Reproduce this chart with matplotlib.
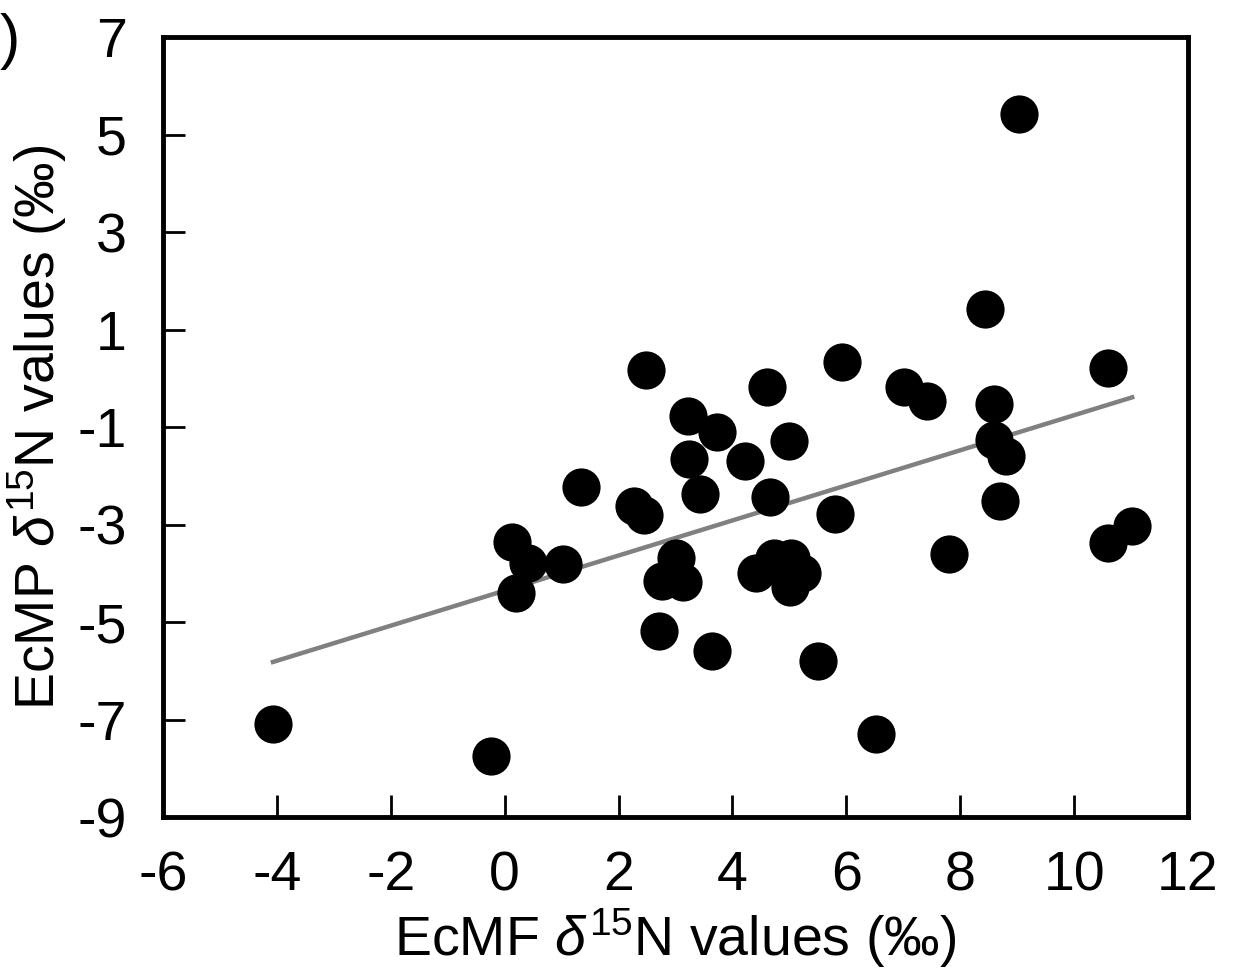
import matplotlib as mpl
mpl.use('Agg')
import matplotlib.pyplot as plt
import numpy as np

# EcMF vs EcMP delta15N values (per mil)
ecmf = [9.03, 8.44, 2.48, 5.92, 4.61, 7.01, 7.42, 10.60, 8.59, 3.22,
        3.73, 4.99, 8.59, 8.81, 3.24, 4.22, 1.34, 3.43, 4.66, 2.27,
        2.45, 8.70, 5.80, 10.60, 11.02, 0.13, 0.41, 1.02, 3.01, 7.80,
        4.73, 5.03, 4.41, 5.22, 2.76, 3.13, 5.01, 0.20, 2.71, 3.64,
        5.50, -4.07, -0.24, 6.52]
ecmp = [5.42, 1.42, 0.17, 0.33, -0.18, -0.18, -0.47, 0.21, -0.53, -0.77,
        -1.10, -1.29, -1.27, -1.59, -1.66, -1.70, -2.23, -2.37, -2.44, -2.62,
        -2.81, -2.52, -2.78, -3.38, -3.03, -3.36, -3.79, -3.81, -3.69, -3.61,
        -3.69, -3.69, -4.00, -4.00, -4.16, -4.18, -4.28, -4.41, -5.18, -5.60,
        -5.80, -7.09, -7.75, -7.30]
xticks = [-6, -4, -2, 0, 2, 4, 6, 8, 10, 12]
yticks = [-9, -7, -5, -3, -1, 1, 3, 5, 7]

mpl.rcParams['font.family'] = ['Liberation Sans', 'DejaVu Sans']
mpl.rcParams['mathtext.fontset'] = 'custom'
mpl.rcParams['mathtext.rm'] = 'Liberation Sans'
mpl.rcParams['mathtext.it'] = 'Liberation Sans:italic'
mpl.rcParams['axes.unicode_minus'] = False

fig = plt.figure(figsize=(12.37, 9.80), dpi=100)
ax = fig.add_axes([0.1318, 0.1663, 0.8286, 0.7959])

x = np.array(ecmf)
y = np.array(ecmp)
m, b = np.polyfit(x, y, 1)
xl = np.array([x.min(), x.max()])
ax.plot(xl, m * xl + b, color='#808080', linewidth=3.2, zorder=1)

ax.plot(x, y, 'o', color='black', markersize=27.5, markeredgewidth=0, zorder=2)

ax.set_xlim(-6, 12)
ax.set_ylim(-9, 7)
ax.set_xticks(xticks)
ax.set_yticks(yticks)
ax.tick_params(direction='in', length=16, width=2, labelsize=40)
ax.tick_params(axis='x', pad=24)
ax.tick_params(axis='y', pad=26)
for s in ax.spines.values():
    s.set_linewidth(3.5)

ax.set_xlabel(r'EcMF $\mathit{\delta}^{\mathrm{15}}$N values (‰)', fontsize=40, labelpad=3)
ax.set_ylabel(r'EcMP $\mathit{\delta}^{\mathrm{15}}$N values (‰)', fontsize=40, labelpad=6)

fig.text(0.0, 0.958, ')', fontsize=44, ha='left', va='center')

fig.savefig('out.png', dpi=100)
